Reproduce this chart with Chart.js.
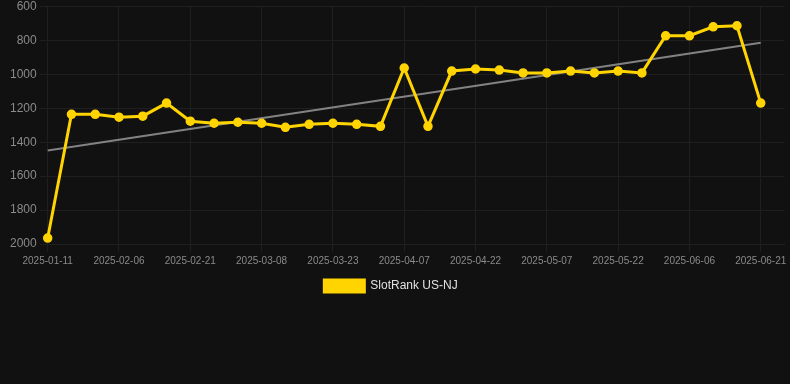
<!DOCTYPE html>
<html>
<head>
<meta charset="utf-8">
<script src="https://cdn.jsdelivr.net/npm/chart.js@4/dist/chart.umd.min.js"></script>
<style>
  html, body { margin: 0; padding: 0; background: #111111; }
  #wrap { width: 790px; height: 302px; position: relative; }
</style>
</head>
<body>
<div id="wrap"><canvas id="c"></canvas></div>
<script>
const categories = [
  '2025-01-11','2025-01-27','2025-02-01','2025-02-06','2025-02-11','2025-02-16',
  '2025-02-21','2025-02-26','2025-03-03','2025-03-08','2025-03-13','2025-03-18',
  '2025-03-23','2025-03-28','2025-04-02','2025-04-07','2025-04-12','2025-04-17',
  '2025-04-22','2025-04-27','2025-05-02','2025-05-07','2025-05-12','2025-05-17',
  '2025-05-22','2025-05-27','2025-06-01','2025-06-06','2025-06-11','2025-06-16',
  '2025-06-21','2025-06-26'
];
const rankValues = [
  1965, 1235, 1235, 1252, 1246, 1169,
  1276, 1288, 1282, 1288, 1312, 1294,
  1288, 1294, 1306, 962, 1306, 980,
  968, 974, 991, 991, 980, 991,
  980, 991, 772, 772, 719, 713,
  1169, null
];
const trendValues = [
  1448, null, null, null, null, null, null, null, null, null, null, null,
  null, null, null, null, null, null, null, null, null, null, null, null,
  null, null, null, null, null, null, 813, null
];
const yTicks = [600, 800, 1000, 1200, 1400, 1600, 1800, 2000];

const FONT = "Arial, 'Liberation Sans', sans-serif";

const legendShift = {
  id: 'legendShift',
  afterLayout(chart) {
    const l = chart.legend;
    if (l) { l.left -= 6; l.right -= 6; }
  }
};

new Chart(document.getElementById('c'), {
  type: 'line',
  plugins: [legendShift],
  data: {
    labels: categories,
    datasets: [
      {
        label: 'SlotRank US-NJ',
        data: rankValues,
        borderColor: '#FFD400',
        backgroundColor: '#FFD400',
        borderWidth: 3,
        pointRadius: 4,
        pointHoverRadius: 4,
        pointBorderWidth: 1.5,
        pointBackgroundColor: '#FFD400',
        pointBorderColor: '#FFD400',
        tension: 0,
        order: 1
      },
      {
        label: 'trend',
        data: trendValues,
        borderColor: 'rgba(150,150,150,0.85)',
        borderWidth: 2,
        pointRadius: 0,
        spanGaps: true,
        fill: false,
        order: 2
      }
    ]
  },
  options: {
    responsive: true,
    maintainAspectRatio: false,
    animation: false,
    layout: { padding: { top: 0, right: -4, left: 0, bottom: 0 } },
    scales: {
      x: {
        offset: false,
        grid: { color: '#1f1f1f', tickLength: 8 },
        border: { color: '#1f1f1f' },
        ticks: {
          color: '#8a8a8a',
          font: { size: 10, family: FONT },
          maxRotation: 0,
          autoSkip: true
        }
      },
      y: {
        reverse: true,
        min: yTicks[0],
        max: yTicks[yTicks.length - 1],
        afterBuildTicks: (scale) => { scale.ticks = yTicks.map(v => ({ value: v })); },
        afterFit: (scale) => { scale.width += 7; },
        grid: { color: '#1f1f1f', tickLength: 8 },
        border: { color: '#1f1f1f' },
        ticks: {
          color: '#8a8a8a',
          font: { size: 12, family: FONT, lineHeight: 0.6 },
          callback: (v) => String(v)
        }
      }
    },
    plugins: {
      legend: {
        position: 'bottom',
        labels: {
          color: '#e0e0e0',
          font: { size: 12, family: FONT },
          boxWidth: 40,
          boxHeight: 12,
          filter: (item) => item.text !== 'trend'
        }
      },
      tooltip: { enabled: false }
    }
  }
});
</script>
</body>
</html>
